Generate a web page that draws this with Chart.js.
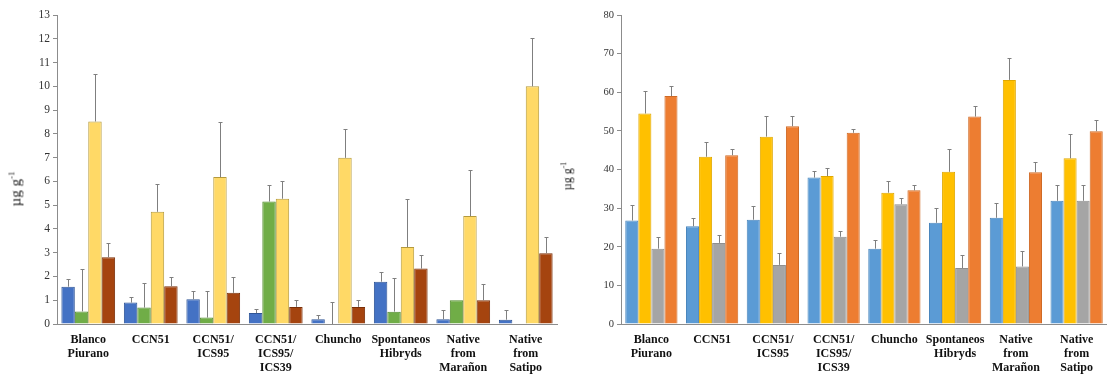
<!DOCTYPE html>
<html>
<head>
<meta charset="utf-8">
<script src="https://cdn.jsdelivr.net/npm/chart.js@4.4.1/dist/chart.umd.min.js"></script>
<style>
  html, body { margin: 0; padding: 0; background: #fff; }
  #wrap { position: relative; width: 1107px; height: 374px; }
  .box { position: absolute; top: 0; height: 374px; }
  #leftBox { left: 0; width: 560px; }
  #rightBox { left: 560px; width: 547px; }
  .ytitle { position: absolute; font-family: "Liberation Serif", serif; color: #222; transform: rotate(-90deg); transform-origin: center; white-space: nowrap; }
</style>
</head>
<body>
<div id="wrap">
  <div class="box" id="leftBox"><canvas id="leftChart"></canvas></div>
  <div class="box" id="rightBox"><canvas id="rightChart"></canvas></div>
  <div class="ytitle" id="leftTitle" style="left:-2px; top:180px; font-size:15px;">µg g<sup style="font-size:9px">-1</sup></div>
  <div class="ytitle" id="rightTitle" style="left:553px; top:168px; font-size:12px;">µg g<sup style="font-size:8px">-1</sup></div>
</div>
<script>
  const categories = [
    ['Blanco', 'Piurano'], 'CCN51', ['CCN51/', 'ICS95'], ['CCN51/', 'ICS95/', 'ICS39'],
    'Chuncho', ['Spontaneos', 'Hibryds'], ['Native', 'from', 'Marañon'], ['Native', 'from', 'Satipo']
  ];

  // left panel (0-13)
  const leftA = [1.57, 0.90, 1.04, 0.46, 0.20, 1.78, 0.20, 0.18];
  const leftAErr = [0.34, 0.22, 0.36, 0.17, 0.18, 0.40, 0.39, 0.40];
  const leftB = [0.53, 0.69, 0.27, 5.15, 0, 0.52, 1.00, 0];
  const leftBErr = [1.79, 1.02, 1.13, 0.71, 0.91, 1.42, 0, 0];
  const leftC = [8.52, 4.72, 6.18, 5.27, 6.99, 3.24, 4.54, 10.0];
  const leftCErr = [2.01, 1.18, 2.33, 0.76, 1.21, 2.03, 1.95, 2.02];
  const leftD = [2.81, 1.59, 1.31, 0.72, 0.72, 2.33, 1.00, 2.98];
  const leftDErr = [0.60, 0.39, 0.67, 0.31, 0.31, 0.59, 0.67, 0.68];

  // right panel (0-80)
  const rightA = [26.8, 25.3, 27.0, 37.9, 19.5, 26.2, 27.5, 31.9];
  const rightAErr = [4.1, 2.2, 3.5, 1.7, 2.3, 3.9, 3.8, 4.0];
  const rightB = [54.5, 43.3, 48.5, 38.3, 34.0, 39.4, 63.2, 42.9];
  const rightBErr = [5.9, 3.7, 5.3, 2.0, 3.0, 5.9, 5.6, 6.2];
  const rightC = [19.5, 21.0, 15.3, 22.6, 31.0, 14.5, 14.9, 31.9];
  const rightCErr = [3.1, 2.0, 3.1, 1.4, 1.7, 3.3, 4.0, 4.0];
  const rightD = [59.0, 43.7, 51.2, 49.5, 34.6, 53.7, 39.3, 49.9];
  const rightDErr = [2.6, 1.6, 2.6, 1.1, 1.5, 2.7, 2.7, 2.9];

  const leftTicks = [0,1,2,3,4,5,6,7,8,9,10,11,12,13];
  const rightTicks = [0,10,20,30,40,50,60,70,80];

  // error bars drawn upward from each bar top
  const errorBars = {
    id: 'errorBars',
    afterDatasetsDraw(chart) {
      const ctx = chart.ctx;
      const y = chart.scales.y;
      ctx.save();
      ctx.strokeStyle = '#7f7f7f';
      ctx.lineWidth = 1;
      chart.data.datasets.forEach((ds, i) => {
        const meta = chart.getDatasetMeta(i);
        meta.data.forEach((bar, j) => {
          const e = ds.errors[j];
          if (!e) return;
          const x = Math.round(bar.x) + 0.5;
          const y0 = y.getPixelForValue(ds.data[j]);
          const y1 = Math.round(y.getPixelForValue(ds.data[j] + e)) + 0.5;
          ctx.beginPath();
          ctx.moveTo(x, y0);
          ctx.lineTo(x, y1);
          ctx.moveTo(x - 2, y1);
          ctx.lineTo(x + 2, y1);
          ctx.stroke();
        });
      });
      ctx.restore();
    }
  };

  function makeDs(data, errors, fill, border) {
    return { data, errors, backgroundColor: fill, borderColor: border, borderWidth: 1,
      barPercentage: 1.0, categoryPercentage: 0.86 };
  }

  function options(max, yWidth, tickSize, ticksList, padRight) {
    return {
      responsive: true,
      maintainAspectRatio: false,
      animation: false,
      layout: { padding: { top: 15, right: padRight, left: 0, bottom: 0 } },
      plugins: { legend: { display: false }, tooltip: { enabled: false } },
      scales: {
        x: {
          grid: { display: false, drawTicks: false },
          border: { color: '#8c8c8c', width: 1 },
          ticks: { color: '#111', font: { family: 'Liberation Serif', size: 12, weight: 'bold', lineHeight: 1.17 }, padding: 9, maxRotation: 0, autoSkip: false },
          afterFit(s) { s.height = 50; }
        },
        y: {
          min: 0, max: max,
          afterBuildTicks(s) { s.ticks = ticksList.map(v => ({ value: v })); },
          grid: { drawOnChartArea: false, drawTicks: true, tickLength: 4, color: '#8c8c8c' },
          border: { color: '#8c8c8c', width: 1 },
          ticks: { color: '#333', font: { family: 'Liberation Serif', size: tickSize }, padding: 3 },
          afterFit(s) { s.width = yWidth; }
        }
      }
    };
  }

  new Chart(document.getElementById('leftChart'), {
    type: 'bar',
    data: {
      labels: categories,
      datasets: [
        makeDs(leftA, leftAErr, '#4472c4', '#2f5597'),
        makeDs(leftB, leftBErr, '#70ad47', '#4f8a2a'),
        makeDs(leftC, leftCErr, '#ffd966', '#b59a3c'),
        makeDs(leftD, leftDErr, '#a5440f', '#7a2f08')
      ]
    },
    options: options(13, 57, 11.5, leftTicks, 3),
    plugins: [errorBars]
  });

  new Chart(document.getElementById('rightChart'), {
    type: 'bar',
    data: {
      labels: categories,
      datasets: [
        makeDs(rightA, rightAErr, '#5b9bd5', '#4a86bd'),
        makeDs(rightB, rightBErr, '#ffc000', '#e0a800'),
        makeDs(rightC, rightCErr, '#a5a5a5', '#8f8f8f'),
        makeDs(rightD, rightDErr, '#ed7d31', '#cf6a25')
      ]
    },
    options: options(80, 61, 10.5, rightTicks, 0),
    plugins: [errorBars]
  });
</script>
</body>
</html>
